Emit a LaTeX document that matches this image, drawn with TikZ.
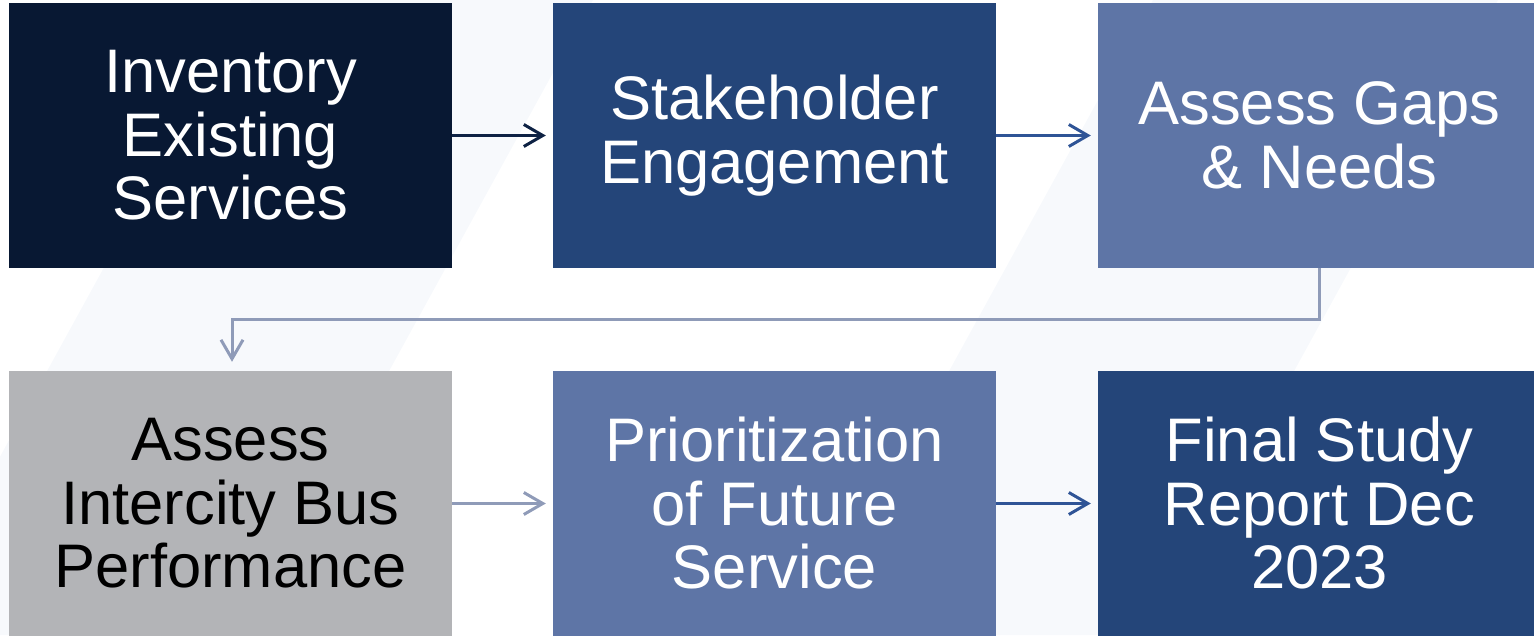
\documentclass[tikz,border=0pt]{standalone}
\usepackage{fontspec}
\setmainfont{Liberation Sans}
\usetikzlibrary{arrows.meta}
\definecolor{navydark}{RGB}{8,24,51}
\definecolor{navymid}{RGB}{36,69,121}
\definecolor{bluelight}{RGB}{94,117,166}
\definecolor{greybox}{RGB}{179,180,183}
\definecolor{arrowdark}{RGB}{14,34,68}
\definecolor{arrowblue}{RGB}{47,84,150}
\definecolor{arrowgrey}{RGB}{143,155,184}
\definecolor{stripebg}{RGB}{247,249,252}
\begin{document}
\begin{tikzpicture}[x=1pt, y=1pt,
    stage/.style={rectangle, minimum width=443pt, minimum height=265pt, inner sep=0pt, align=center, text=white, font=\fontsize{61.5}{63.5}\selectfont},
    flow/.style={line width=3pt, -{Straight Barb[length=19pt, width=22pt]}, shorten >=7pt}]
				\useasboundingbox (0,0) rectangle (1534,635);
				\clip (0,0) rectangle (1534,635);
				% faint background stripes
				\fill[stripebg] (251,635) -- (593,635) -- (244,0) -- (-98,0) -- cycle;
				\fill[stripebg] (1153,635) -- (1498,635) -- (1149,0) -- (804,0) -- cycle;
				\node[stage, fill=navydark] (inv)at(230.5, 499.5) {Inventory\\Existing\\Services};
				\node[stage, fill=navymid] (stake)at(774.5, 499.5) {Stakeholder\\Engagement};
				\node[stage, fill=bluelight] (gaps)at(1319.5, 499.5) {Assess Gaps\\\& Needs};
				\node[stage, fill=greybox, text=black] (bus)at(230.5, 131.5) {Assess\\Intercity Bus\\Performance};
				\node[stage, fill=bluelight] (prio)at(774.5, 131.5) {Prioritization\\of Future\\Service};
				\node[stage, fill=navymid] (final)at(1319.5, 131.5) {Final Study\\Report Dec\\2023};
				\draw[flow, arrowdark] (inv) -- (stake);
				\draw[flow, arrowblue] (stake) -- (gaps);
				\draw[flow, arrowgrey, shorten >=9pt] (gaps.south) |- (232, 315) -- (bus.north -| 232, 0);
				\draw[flow, arrowgrey] (bus) -- (prio);
				\draw[flow, arrowblue] (prio) -- (final);
			\end{tikzpicture}
\end{document}
